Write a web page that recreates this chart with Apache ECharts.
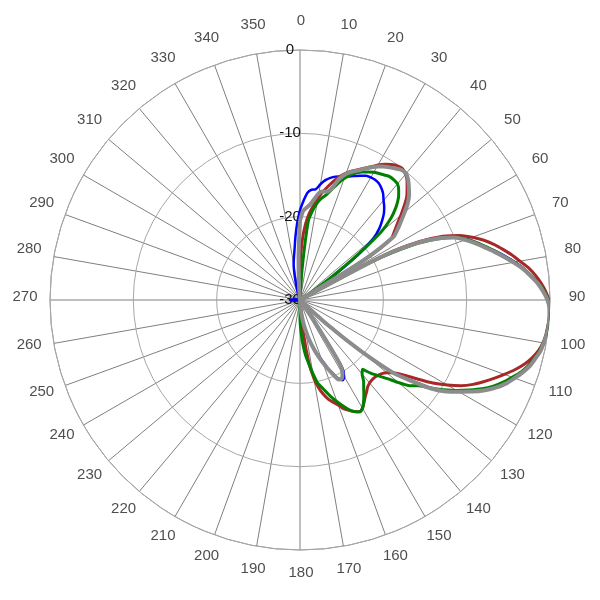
<!DOCTYPE html>
<html><head><meta charset="utf-8">
<script src="https://cdn.jsdelivr.net/npm/echarts@6/dist/echarts.min.js"></script>
<style>html,body{margin:0;padding:0;background:#fff}#c{width:600px;height:600px}</style>
</head><body><div id="c"></div>
<script>
// angle (degrees, clockwise from top)
const angles = [0,2,4,6,8,10,12,14,16,18,20,22,24,26,28,30,32,34,36,38,
  40,42,44,46,48,50,52,54,56,58,60,62,64,66,68,70,72,74,76,78,
  80,82,84,86,88,90,92,94,96,98,100,102,104,106,108,110,112,114,116,118,
  120,122,124,126,128,130,132,134,136,138,140,142,144,146,148,150,152,154,156,158,
  160,162,164,166,168,170,172,174,176,178,180,
  190,200,210,220,230,240,250,260,270,280,290,300,310,320,330,
  340,342,344,346,348,350,352,354,356,358];

// gain in dB for each angle
const blueDb = [-19.2,-18.1,-17.1,-16.7,-16.6,-15.9,-15.3,-14.9,-14.6,-14.4,
  -14.2,-14.0,-13.7,-13.4,-13.1,-13.0,-13.0,-13.1,-13.4,-13.8,
  -14.4,-14.9,-15.5,-16.3,-17.2,-18.5,-21,-24.5,-27.3,-30,
  -30,-19.5,-14.5,-11.8,-9.9,-8.7,-7.7,-6.8,-5.8,-4.8,
  -3.8,-2.9,-2.1,-1.3,-0.7,-0.2,0,0,0,-0.1,
  -0.35,-0.6,-1.0,-1.45,-2.05,-2.75,-3.5,-4.4,-5.5,-6.8,
  -8.2,-9.5,-11.2,-13.6,-15.8,-20.3,-25.3,-30,-30,-30,
  -30,-30,-30,-26.5,-20.5,-19.4,-19.1,-19.5,-20.4,-21.3,
  -22.3,-23.1,-23.9,-24.7,-25.5,-26.3,-27.2,-28.1,-29,-29.6,-30,
  -30,-30,-30,-30,-30,-30,-30,-29.5,-28.8,-29.5,-30,-30,-30,-30,-30,
  -30,-29.5,-28.8,-28,-26.8,-25.6,-24.8,-23.8,-22.3,-20.7];

const redDb = [-26,-23,-21,-19.6,-18.6,-17.6,-16.7,-15.9,-15.1,-14.4,
  -13.8,-13.3,-12.9,-12.4,-11.9,-11.3,-10.8,-10.4,-10.1,-10.0,
  -10.3,-10.8,-11.5,-12.2,-13.2,-14.2,-15.2,-16.0,-16.8,-20.5,
  -30,-18.5,-14,-11.2,-9.3,-8.0,-6.8,-5.8,-4.9,-4.0,
  -3.2,-2.3,-1.6,-1.0,-0.5,-0.15,0,0,-0.1,-0.2,
  -0.4,-0.75,-1.3,-2.0,-2.9,-3.9,-4.9,-5.9,-6.9,-8.1,
  -9.6,-11.2,-13.1,-14.7,-15.8,-16.4,-16.8,-17.0,-17.1,-17.1,
  -17.0,-16.8,-16.4,-16.0,-15.5,-15.0,-14.8,-15.1,-15.5,-15.9,
  -16.6,-17.1,-17.6,-18.3,-19.2,-20.5,-22.5,-26,-30,-30,-30,
  -30,-30,-30,-30,-30,-30,-30,-30,-30,-30,-30,-30,-30,-30,-30,
  -30,-30,-30,-30,-30,-30,-30,-30,-30,-29];

const greenDb = [-30,-30,-26,-20.5,-19.2,-18.2,-17.5,-17.0,-16.2,-15.3,
  -14.5,-13.8,-13.3,-12.9,-12.6,-12.3,-12.1,-11.9,-11.7,-11.7,
  -11.8,-12.3,-13.0,-14.0,-15.3,-17.3,-21.5,-25.5,-28.5,-30,
  -30,-20,-14.8,-12,-9.9,-8.75,-7.7,-6.8,-5.85,-4.9,
  -3.9,-2.9,-2.1,-1.3,-0.65,-0.2,0,0,-0.05,-0.15,
  -0.35,-0.6,-1.0,-1.5,-2.1,-2.9,-3.7,-4.6,-5.7,-7.0,
  -8.3,-9.7,-11.1,-12.5,-13.3,-14.6,-15.9,-16.9,-17.8,-18.8,
  -18.4,-17.6,-17.0,-16.3,-15.6,-15.0,-14.8,-15.1,-15.6,-16.3,
  -17.0,-17.7,-18.5,-19.2,-19.8,-21,-22.2,-23.2,-24.5,-26,-27.8,
  -30,-30,-30,-30,-30,-30,-30,-30,-30,-30,-30,-30,-30,-30,-30,
  -30,-30,-30,-30,-30,-30,-30,-30,-30,-30];

const grayDb = [-20.5,-19.3,-18.9,-18.5,-17.8,-17.0,-16.7,-16.6,-16.0,-14.7,
  -13.9,-13.4,-13.0,-12.5,-12.0,-11.5,-11.1,-10.8,-10.5,-10.2,
  -10.2,-10.6,-11.2,-11.8,-12.6,-13.6,-14.6,-15.5,-16.5,-21,
  -30,-19,-14.5,-11.8,-10,-8.9,-7.9,-7.0,-6.0,-5.0,
  -4.0,-3.0,-2.2,-1.4,-0.8,-0.3,-0.05,0,0,-0.1,
  -0.3,-0.5,-0.9,-1.3,-1.9,-2.6,-3.3,-4.2,-5.3,-6.6,
  -8.0,-9.3,-11.0,-13.5,-15.8,-20.5,-25.5,-30,-30,-30,
  -30,-30,-30,-27,-21,-19.8,-19.3,-19.4,-20.2,-21.1,
  -22.0,-22.9,-23.8,-24.7,-25.6,-26.5,-27.4,-28.3,-29.2,-30,-30,
  -30,-30,-30,-30,-30,-30,-30,-30,-30,-30,-30,-30,-30,-30,-30,
  -30,-30,-30,-30,-30,-30,-30,-30,-28.5,-25];

// angle tick labels around the rim
const angleTickLabels = [0,10,20,30,40,50,60,70,80,90,100,110,120,130,140,150,160,170,
  180,190,200,210,220,230,240,250,260,270,280,290,300,310,320,330,340,350];

const radiusMin = -30, radiusMax = 0, radiusStep = 10;
const angleStep = 10;

function pairs(vals) {
  const d = angles.map((a, i) => [vals[i], a]);
  d.push([vals[0], 360]);
  return d;
}

const seriesDefs = [
  {name: 'Blue', data: blueDb, color: '#0000ff', width: 2.5},
  {name: 'Red', data: redDb, color: '#a82828', width: 3},
  {name: 'Green', data: greenDb, color: '#008000', width: 3},
  {name: 'Gray', data: grayDb, color: '#8c8c8c', width: 4}
];

const FONT = 'Liberation Sans, Arial, sans-serif';

const chart = echarts.init(document.getElementById('c'), null, {renderer: 'canvas'});
chart.setOption({
  animation: false,
  polar: [
    {center: [300, 300], radius: 250},
    {center: [301, 297], radius: 276}
  ],
  angleAxis: [{
    polarIndex: 0,
    type: 'value', min: 0, max: 360, interval: angleStep,
    startAngle: 90, clockwise: true,
    axisLine: {show: true, lineStyle: {color: '#999999', width: 1}},
    axisTick: {show: false},
    splitLine: {show: true, lineStyle: {color: '#7f7f7f', width: 1}},
    axisLabel: {show: false}
  }, {
    polarIndex: 1,
    type: 'value', min: 0, max: 360, interval: angleStep,
    startAngle: 90, clockwise: true, show: false
  }],
  radiusAxis: [{
    polarIndex: 0,
    type: 'value', min: radiusMin, max: radiusMax, interval: radiusStep,
    axisLine: {show: false}, axisTick: {show: false},
    splitLine: {show: true, lineStyle: {color: '#a6a6a6', width: 1}},
    axisLabel: {
      margin: 10, align: 'center', color: '#111', fontSize: 15, fontFamily: FONT
    },
    z: 1
  }, {
    polarIndex: 1,
    type: 'value', min: 0, max: 1, show: false
  }],
  series: seriesDefs.map(s => ({
    name: s.name, type: 'line', coordinateSystem: 'polar', polarIndex: 0,
    data: pairs(s.data), showSymbol: false, symbol: 'none',
    smooth: 0.25, clip: false,
    lineStyle: {color: s.color, width: s.width},
    itemStyle: {color: s.color}
  })).concat([{
    name: 'angleLabels', type: 'scatter', coordinateSystem: 'polar', polarIndex: 1,
    data: angleTickLabels.map(a => [1, a]),
    symbolSize: 1, itemStyle: {color: 'rgba(0,0,0,0)'},
    silent: true,
    label: {
      show: true, position: 'inside', align: 'center', verticalAlign: 'middle',
      formatter: p => String(p.value[1]), color: '#222', fontSize: 15, fontFamily: FONT
    }
  }])
});
</script>
</body></html>
